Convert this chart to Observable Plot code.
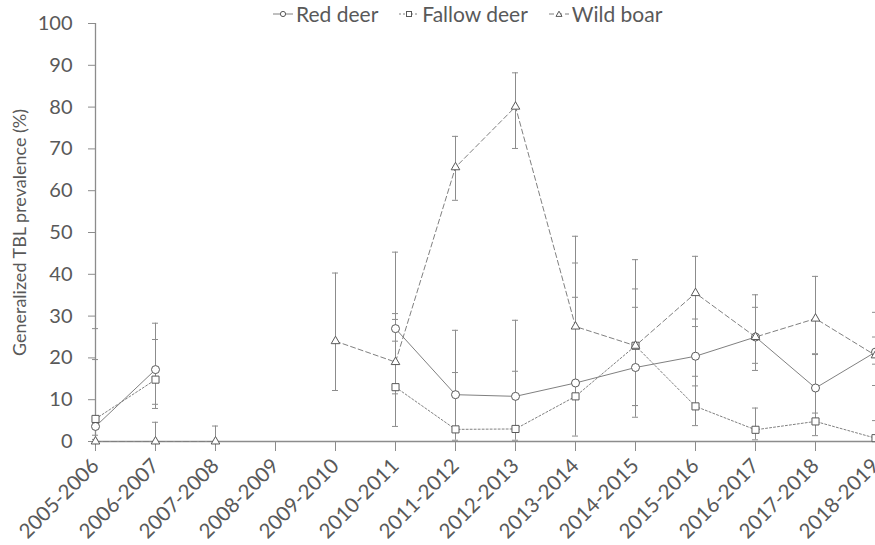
<!DOCTYPE html>
<html><head><meta charset="utf-8">
<script src="https://cdn.jsdelivr.net/npm/d3@7"></script>
<script src="https://cdn.jsdelivr.net/npm/@observablehq/plot@0.6"></script>
<style>
body{margin:0;background:#fff;font-family:Lato,"Open Sans",sans-serif;}
#wrap{position:relative;width:875px;height:545px;overflow:hidden;}
#legend{position:absolute;top:1px;left:273px;display:flex;align-items:center;color:#595959;font-size:21px;}
#legend .item{display:flex;align-items:center;margin-right:21px;}
#legend svg{margin-right:3px;}
</style></head><body>
<div id="wrap"><div id="chart"></div><div id="legend"></div></div>
<script>
const seasons = ["2005-2006","2006-2007","2007-2008","2008-2009","2009-2010","2010-2011","2011-2012","2012-2013","2013-2014","2014-2015","2015-2016","2016-2017","2017-2018","2018-2019"];
const yTicks = [0,10,20,30,40,50,60,70,80,90,100];
const seriesNames = ["Red deer","Fallow deer","Wild boar"];

const redDeer   = [3.6, 17.2, null, null, null, 27.0, 11.2, 10.8, 14.0, 17.7, 20.4, 25.0, 12.8, 21.4];
const redLo     = [0.5, 7.9,  null, null, null, 24.0, 3.2,  3.0,  10.8, 8.6,  13.3, 18.7, 5.5,  18.5];
const redHi     = [27.0,28.3, null, null, null, 30.6, 26.6, 29.0, 34.5, 32.1, 29.3, 32.1, 20.8, 25.0];

const fallowDeer = [5.4, 14.8, null, null, null, 13.0, 2.9, 3.0, 10.8, 22.9, 8.4, 2.8, 4.8, 0.8];
const fallowLo   = [1.5, 8.9,  null, null, null, 11.4, 0.3, 0.3, 1.3,  5.8,  3.8, 0.4, 1.4, 0.1];
const fallowHi   = [19.6,24.4, null, null, null, 29.2, 16.5,16.8, 42.7, 36.5, 15.6, 8.0, 6.8, 5.0];

const wildBoar = [0, 0,   0,   null, 24.0, 19.0, 65.6, 80.1, 27.5, 22.9, 35.5, 25.0, 29.4, 20.6];
const boarLo   = [null, 0, 0,  null, 12.2, 3.6,  57.7, 70.1, 14.3, 8.6,  27.5, 17.0, 21.0, 13.4];
const boarHi   = [null, 4.6, 3.7, null, 40.3, 45.3, 73.0, 88.2, 49.1, 43.5, 44.3, 35.1, 39.5, 30.9];

const sets = [
  {name: seriesNames[0], v: redDeer, lo: redLo, hi: redHi, symbol: "circle", r: 4, dash: null},
  {name: seriesNames[1], v: fallowDeer, lo: fallowLo, hi: fallowHi, symbol: "square", r: 4, dash: "2,2"},
  {name: seriesNames[2], v: wildBoar, lo: boarLo, hi: boarHi, symbol: "triangle", r: 3.2, dash: "5,3"}
];

const rows = sets.flatMap(s => seasons.map((season, i) => ({series: s.name, i, season, v: s.v[i], lo: s.lo[i], hi: s.hi[i]})));
const bars = rows.filter(d => d.lo != null && d.hi != null);
const caps = bars.flatMap(d => [{i: d.i, y: d.lo}, {i: d.i, y: d.hi}]);

const lineColor = "#808080";
const markColor = "#595959";
const axisColor = "#8c8c8c";

const marks = [
  Plot.ruleX(bars, {x: "i", y1: "lo", y2: "hi", stroke: axisColor, strokeWidth: 1}),
  Plot.ruleY(caps, {y: "y", x1: d => d.i - 0.05, x2: d => d.i + 0.05, stroke: axisColor, strokeWidth: 1}),
  Plot.ruleY([0], {stroke: axisColor, strokeWidth: 1.3}),
  Plot.ruleX([0], {y1: 0, y2: 100, stroke: axisColor, strokeWidth: 1.3}),
  Plot.axisY({ticks: yTicks, tickSize: 7, tickPadding: 16, label: null, fontSize: 20, stroke: axisColor}),
  Plot.axisX({ticks: d3.range(seasons.length), tickFormat: i => seasons[i], tickRotate: -45, tickSize: 10, tickPadding: 11, label: null, fontSize: 20.5, stroke: axisColor}),
  Plot.text(["Generalized TBL prevalence (%)"], {frameAnchor: "left", textAnchor: "middle", rotate: -90, dx: -75, fontSize: 18, fill: markColor})
];
for (const s of sets) {
  marks.push(Plot.line(rows.filter(d => d.series === s.name), {x: "i", y: "v", stroke: lineColor, strokeWidth: 1, strokeDasharray: s.dash}));
}
for (const s of sets) {
  marks.push(Plot.dot(rows.filter(d => d.series === s.name && d.v != null), {x: "i", y: "v", symbol: s.symbol, r: s.r, fill: "white", stroke: markColor, strokeWidth: 1}));
}

const chart = Plot.plot({
  width: 875, height: 545,
  marginLeft: 95, marginRight: 0, marginTop: 23, marginBottom: 104,
  x: {domain: [0, seasons.length - 1]},
  y: {domain: [0, 100]},
  style: {fontFamily: "Lato, 'Open Sans', sans-serif", color: markColor, background: "white", overflow: "visible"},
  marks
});
document.getElementById("chart").appendChild(chart);

// legend
const legend = document.getElementById("legend");
const symPaths = {
  circle: '<circle cx="10" cy="7" r="2.6" fill="white" stroke="#595959"/>',
  square: '<rect x="7.5" y="4.5" width="5" height="5" fill="white" stroke="#595959"/>',
  triangle: '<path d="M10 4.2 L13 9.4 L7 9.4 Z" fill="white" stroke="#595959"/>'
};
for (const s of sets) {
  const item = document.createElement("div");
  item.className = "item";
  item.innerHTML = `<svg width="20" height="14"><line x1="0" y1="7" x2="20" y2="7" stroke="#808080" ${s.dash ? `stroke-dasharray="${s.dash}"` : ""}/>${symPaths[s.symbol]}</svg><span>${s.name}</span>`;
  legend.appendChild(item);
}
</script>
</body></html>
